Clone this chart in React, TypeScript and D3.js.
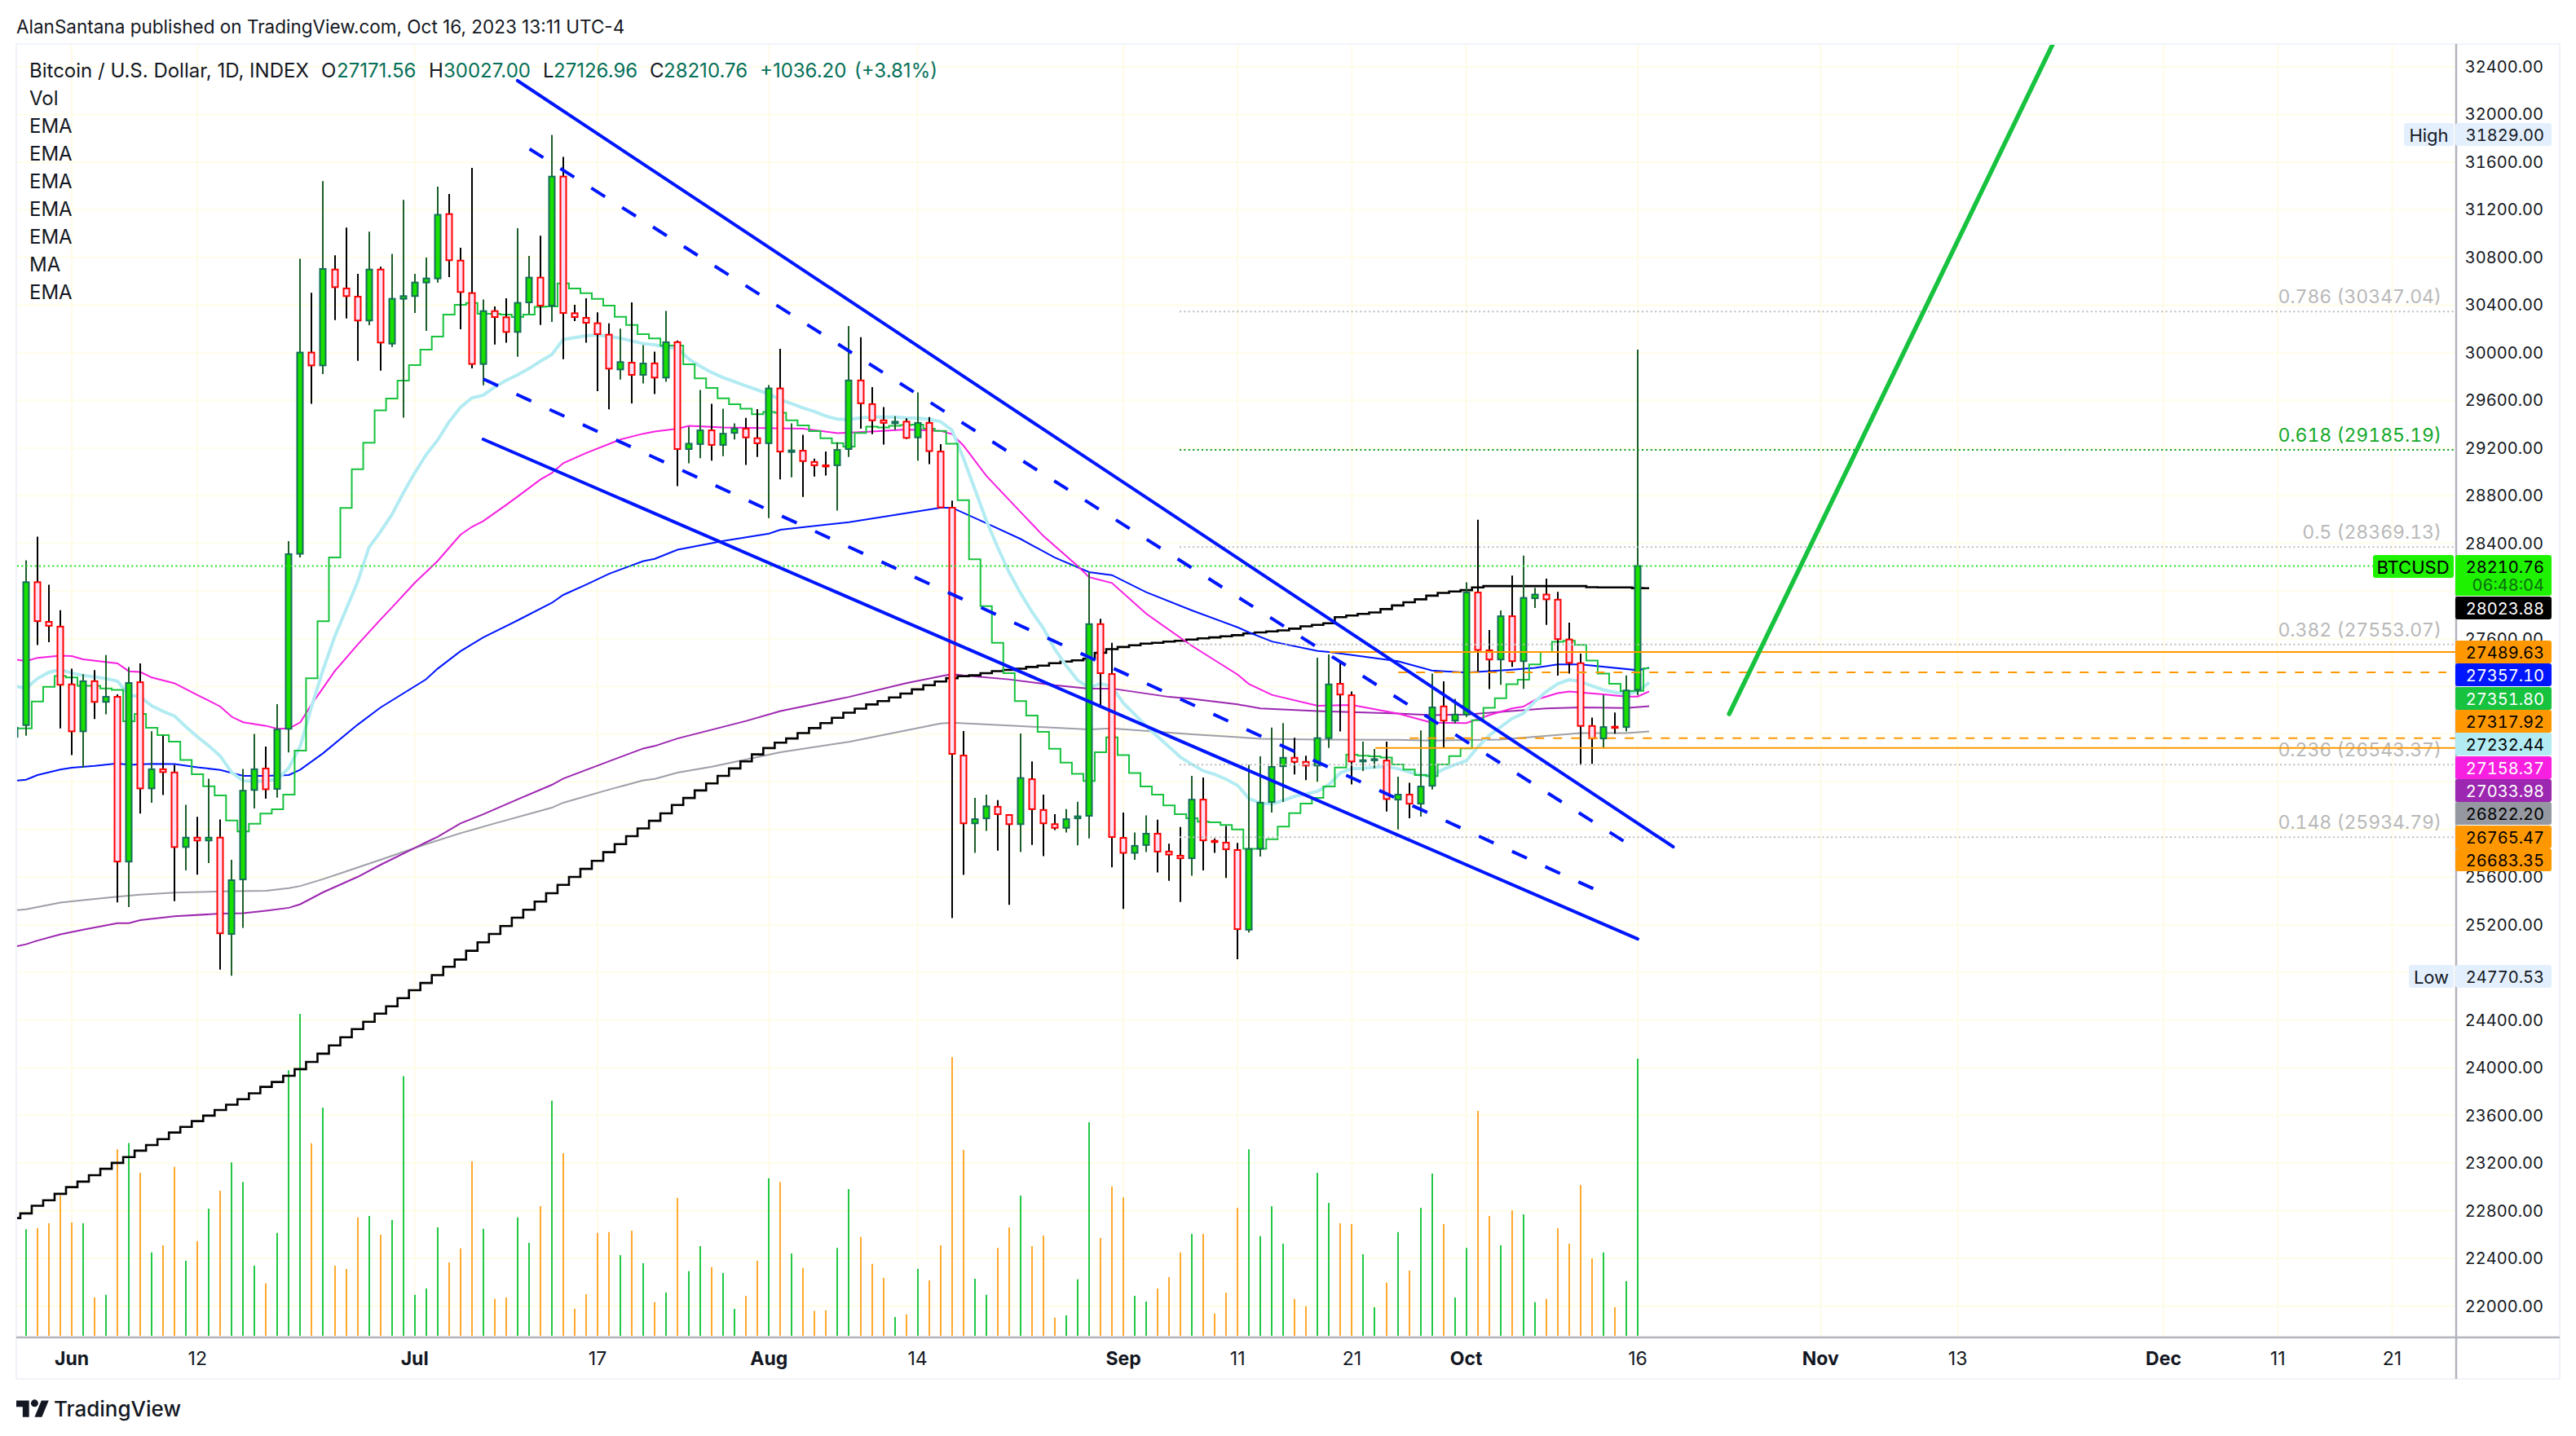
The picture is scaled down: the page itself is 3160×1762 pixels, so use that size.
import React from "react";
import * as d3 from "d3";

const WIDTH = 3160;
const HEIGHT = 1762;
const FONT = "Inter, 'Noto Sans', sans-serif";

// daily bars, 27 May to 16 Oct 2023 (bar index 0 = 27 May, 5 = 1 Jun)
const opens = [
  26777, 26875, 28075, 27742, 27702,
  27217, 26823, 27244, 27070, 27113, 25730, 27235, 26344, 26505, 26478, 25852, 25931, 25907, 25931, 25122, 25580, 26331, 26511, 26340, 26844, 28313, 30002, 29894, 30699, 30540, 30471, 30271, 30699, 30077, 30453,
  30476, 30590, 30624, 31164, 30774, 30501, 29906, 30350, 30298, 30175, 30423, 30631, 30396, 31479, 30332, 30293, 30248, 30152, 29860, 29917, 29815, 29911, 29792, 30089, 29192, 29234, 29349, 29227, 29328, 29363, 29283,
  29241, 29701, 29167, 29178, 29084, 29056, 29056, 29192, 29768, 29569, 29433, 29408, 29422, 29290, 29412, 29171, 28700, 26620, 26051, 26093, 26190, 26121, 26044, 26421, 26163, 26044, 26013, 26093, 26114, 27723, 27304,
  25929, 25803, 25869, 25964, 25814, 25779, 25758, 26250, 25904, 25889, 25827, 25158, 25838, 26230, 26530, 26601, 26567, 26536, 26766, 27222, 27126, 26570, 26581, 26578, 26250, 26292, 26216, 26366, 27032, 26913,
  26964, 27988, 27503, 27426, 27789, 27412, 27940, 27971, 27928, 27594, 27395, 26868, 26763, 26862, 26859, 27171.56,
];
const highs = [
  26869, 28258, 28457, 28054, 27840,
  27348, 27302, 27336, 27464, 27134, 27363, 27394, 26823, 26786, 26542, 26206, 26105, 26426, 26084, 25745, 26508, 26802, 26695, 27052, 28420, 30790, 30503, 31440, 30818, 31050, 30663, 31016, 30722, 30831, 31283,
  30663, 30800, 31395, 31333, 30882, 31552, 30448, 30389, 30458, 31046, 30813, 30982, 31829, 31645, 30403, 30458, 30339, 30248, 30202, 30423, 30065, 30009, 30351, 30103, 29380, 29688, 29572, 29530, 29408, 29454, 29527,
  29729, 30033, 29408, 29311, 29112, 29171, 29248, 30225, 30131, 29712, 29544, 29468, 29450, 29667, 29461, 29234, 28759, 26826, 26264, 26292, 26246, 26128, 26805, 26571, 26292, 26128, 26170, 26232, 28159, 27768, 27566,
  26142, 25974, 26117, 26082, 25880, 26020, 26449, 26435, 25925, 26028, 25887, 26542, 26613, 26854, 26893, 26769, 26618, 27441, 27469, 27401, 27157, 26737, 26675, 26737, 26442, 26391, 26831, 27307, 27242, 27095,
  28073, 28598, 27673, 27838, 28130, 28297, 28028, 28104, 27994, 27736, 27475, 26939, 27129, 26981, 27293, 30027,
];
const lows = [
  26716, 26786, 27547, 27571, 26847,
  26624, 26518, 26927, 26966, 25388, 25348, 26133, 26224, 26289, 25397, 25656, 25620, 25717, 24823, 24771, 25174, 26175, 26258, 26267, 26646, 28283, 29571, 29821, 30275, 30289, 29933, 30232, 29851, 30049, 29455,
  30334, 30184, 30590, 30635, 30198, 29869, 29728, 30070, 30084, 29967, 30327, 30234, 30259, 29947, 30266, 30084, 29678, 29526, 29776, 29575, 29742, 29653, 29757, 28881, 29073, 29115, 29094, 29133, 29272, 29059, 29126,
  28613, 28937, 28955, 28791, 28962, 28969, 28675, 29126, 29363, 29317, 29230, 29352, 29276, 29094, 29066, 28703, 25255, 25618, 25803, 25988, 25821, 25367, 25810, 25869, 25775, 25995, 25974, 25866, 25925, 27042, 25681,
  25332, 25744, 25810, 25639, 25569, 25391, 25611, 25656, 25803, 25592, 24911, 25135, 25773, 26142, 26230, 26462, 26414, 26400, 26683, 26822, 26377, 26491, 26513, 26150, 26000, 26094, 26108, 26335, 26683, 26888,
  26944, 27322, 27177, 27214, 27364, 27180, 27858, 27716, 27290, 27307, 26539, 26550, 26681, 26803, 26822, 27126.96,
];
const closes = [
  26854, 28075, 27748, 27709, 27214,
  26823, 27244, 27070, 27113, 25730, 27229, 26344, 26505, 26481, 25852, 25931, 25907, 25931, 25128, 25574, 26325, 26505, 26337, 26838, 28310, 30002, 29894, 30704, 30551, 30476, 30271, 30699, 30086, 30453, 30476,
  30590, 30624, 31158, 30777, 30510, 29906, 30350, 30300, 30175, 30419, 30631, 30396, 31479, 30334, 30300, 30252, 30157, 29867, 29922, 29815, 29910, 29792, 30089, 29192, 29237, 29349, 29227, 29321, 29363, 29290, 29241,
  29701, 29171, 29181, 29091, 29056, 29049, 29185, 29768, 29576, 29433, 29412, 29422, 29286, 29412, 29175, 28703, 26634, 26051, 26086, 26194, 26128, 26044, 26431, 26170, 26051, 26013, 26086, 26110, 27723, 27311, 25936,
  25803, 25862, 25964, 25814, 25789, 25758, 26250, 25908, 25897, 25833, 25163, 25835, 26224, 26525, 26601, 26567, 26536, 26766, 27217, 27132, 26570, 26581, 26590, 26255, 26292, 26216, 26360, 27024, 26913, 26964,
  27988, 27506, 27426, 27789, 27412, 27943, 27971, 27931, 27597, 27398, 26868, 26763, 26859, 26853, 27166, 28210.76,
];
const volumes = [
  0, 365, 368, 385, 480,
  388, 385, 131, 140, 638, 660, 558, 285, 310, 578, 257, 324, 435, 497, 594, 527, 240, 179, 352, 909, 1102, 659, 781, 240, 229, 405, 410, 346, 396, 889,
  140, 162, 371, 251, 299, 597, 366, 126, 131, 405, 318, 444, 805, 625, 92, 142, 352, 355, 276, 360, 248, 115, 148, 472, 221, 307, 235, 215, 92, 137, 257,
  539, 527, 282, 232, 85, 87, 301, 502, 338, 246, 198, 64, 73, 229, 190, 310, 954, 636, 195, 140, 301, 371, 480, 307, 343, 62, 70, 193, 731, 335, 511,
  474, 137, 117, 162, 201, 285, 349, 349, 76, 148, 438, 638, 341, 444, 315, 126, 101, 558, 455, 385, 382, 279, 98, 182, 355, 223, 438, 555, 382, 131,
  301, 770, 410, 310, 430, 416, 115, 126, 368, 315, 516, 265, 285, 98, 187, 949,
];

// step lines, one value per bar plus the one bar past the last candle
const greenEma = [
  26847, 26847, 27073, 27196, 27287,
  27275, 27205, 27205, 27183, 27171, 26908, 26970, 26853, 26792, 26737, 26582, 26463, 26362, 26285, 26075, 25983, 26047, 26133, 26169, 26292, 26661, 27269, 27748, 28283, 28698, 29022, 29245, 29517, 29616, 29767,
  29897, 30027, 30136, 30321, 30403, 30419, 30328, 30328, 30321, 30300, 30321, 30385, 30389, 30583, 30540, 30501, 30453, 30396, 30302, 30234, 30157, 30120, 30061, 30061, 29904, 29785, 29705, 29618, 29569, 29530, 29485,
  29503, 29496, 29433, 29391, 29342, 29283, 29241, 29213, 29328, 29380, 29373, 29387, 29394, 29398, 29363, 29345, 29237, 28763, 28267, 27873, 27566, 27311, 27077, 26955, 26819, 26676, 26560, 26466, 26407, 26648, 26773,
  26623, 26473, 26361, 26292, 26201, 26128, 26094, 26065, 26060, 26037, 26000, 25838, 25838, 25918, 26023, 26136, 26216, 26264, 26360, 26519, 26627, 26618, 26613, 26604, 26545, 26502, 26457, 26448, 26545, 26615,
  26681, 26916, 27021, 27100, 27219, 27256, 27384, 27489, 27574, 27583, 27548, 27418, 27307, 27222, 27160, 27163, 27351.8,
];
const blackMa = [
  22738, 22777, 22841, 22887, 22941,
  22998, 23044, 23098, 23152, 23201, 23250, 23304, 23351, 23400, 23456, 23503, 23552, 23598, 23645, 23689, 23736, 23785, 23839, 23880, 23932, 23988, 24049, 24118, 24187, 24255, 24324, 24385, 24454, 24515, 24584,
  24650, 24711, 24777, 24847, 24908, 24981, 25052, 25122, 25189, 25259, 25326, 25394, 25464, 25534, 25601, 25669, 25736, 25809, 25876, 25943, 26008, 26072, 26135, 26205, 26264, 26327, 26386, 26449, 26512, 26571, 26630,
  26683, 26728, 26763, 26808, 26850, 26892, 26937, 26979, 27014, 27049, 27077, 27108, 27140, 27175, 27210, 27241, 27269, 27286, 27293, 27311, 27328, 27339, 27349, 27363, 27374, 27395, 27409, 27419, 27433, 27482, 27513,
  27531, 27545, 27559, 27566, 27576, 27583, 27593, 27604, 27611, 27621, 27630, 27645, 27653, 27662, 27670, 27685, 27704, 27716, 27730, 27781, 27795, 27809, 27821, 27849, 27880, 27906, 27931, 27962, 27985, 27997,
  28008, 28031, 28042, 28042, 28042, 28042, 28042, 28042, 28042, 28042, 28042, 28033, 28031, 28031, 28031, 28025, 28023.88,
];
const lightBlueEma = [
  27205, 27183, 27266, 27318, 27342,
  27312, 27293, 27281, 27266, 27244, 27128, 27113, 27037, 26991, 26951, 26860, 26777, 26701, 26615, 26478, 26408, 26402, 26408, 26420, 26518, 26701, 27037, 27342, 27617, 27846, 28075, 28365, 28497, 28640, 28823,
  28991, 29144, 29266, 29419, 29541, 29621, 29644, 29712, 29769, 29815, 29867, 29929, 29986, 30111, 30127, 30143, 30150, 30138, 30122, 30099, 30077, 30068, 30044, 30037, 29946, 29886, 29834, 29792, 29757, 29722, 29688,
  29653, 29607, 29572, 29537, 29506, 29468, 29443, 29440, 29454, 29461, 29461, 29461, 29454, 29450, 29443, 29422, 29352, 29119, 28857, 28595, 28368, 28159, 27984, 27827, 27688, 27513, 27374, 27251, 27189, 27224, 27199,
  27060, 26965, 26868, 26780, 26693, 26606, 26546, 26491, 26462, 26420, 26369, 26258, 26221, 26213, 26244, 26278, 26298, 26320, 26377, 26476, 26510, 26513, 26522, 26527, 26510, 26482, 26454, 26454, 26505, 26542,
  26576, 26689, 26788, 26859, 26930, 26973, 27072, 27157, 27222, 27256, 27242, 27205, 27171, 27151, 27137, 27157, 27232.44,
];

// the slower averages are read at their bends: [bar index, price]
const magentaEma: [number, number][] = [
  [0, 27428], [1, 27412], [2, 27440], [4, 27458], [5, 27455], [6, 27428], [9, 27394], [10, 27327], [11, 27321], [12, 27275], [14, 27226], [16, 27128], [18, 27031], [19, 26945], [20, 26899], [22, 26869], [23, 26844], [24, 26847], [25, 26899], [26, 27052], [27, 27189], [28, 27327], [30, 27550], [32, 27760], [33, 27861], [35, 28069], [37, 28252], [39, 28472], [40, 28539], [41, 28588], [43, 28723], [44, 28793], [46, 28936], [47, 28991], [48, 29074], [50, 29159], [53, 29272], [55, 29321],
  [56, 29339], [58, 29363], [59, 29387], [62, 29373], [69, 29363], [72, 29325], [75, 29339], [78, 29356], [81, 29345], [82, 29318], [83, 29223], [85, 28969], [88, 28665], [90, 28463], [93, 28211], [94, 28117], [96, 28068], [99, 27810], [103, 27540],
  [107, 27299], [108, 27219], [110, 27129], [114, 27038], [117, 27044], [121, 26973], [124, 26896], [127, 26893], [129, 26959], [131, 27015], [132, 27030], [133, 27086], [135, 27143], [136, 27157], [139, 27134], [141, 27115], [142, 27115], [143, 27158.37],
];
const blueEma: [number, number][] = [
  [0, 26408], [1, 26417], [2, 26456], [4, 26502], [5, 26517], [7, 26533], [9, 26554], [10, 26542], [12, 26551], [14, 26548], [16, 26521], [18, 26499], [20, 26450], [22, 26450], [24, 26456], [25, 26502], [27, 26640], [30, 26878], [32, 27022], [36, 27260], [37, 27348], [39, 27495], [41, 27611], [44, 27754], [47, 27901], [48, 27968], [50, 28054], [52, 28145], [55, 28252],
  [56, 28271], [58, 28347], [62, 28421], [66, 28483], [67, 28515], [73, 28578], [81, 28700], [82, 28700], [85, 28571], [88, 28438], [91, 28281], [94, 28159], [96, 28134], [99, 27991], [103, 27838],
  [107, 27696], [108, 27653], [110, 27577], [114, 27497], [115, 27489], [121, 27412], [124, 27333], [127, 27316], [131, 27341], [133, 27356], [135, 27384], [137, 27384], [142, 27336], [143, 27357.1],
];
const purpleEma: [number, number][] = [
  [0, 25015], [1, 25036], [2, 25067], [4, 25119], [6, 25159], [9, 25213], [10, 25213], [11, 25238], [14, 25271], [18, 25293], [20, 25296], [22, 25317], [24, 25342], [25, 25372], [27, 25473], [30, 25601], [32, 25702], [36, 25892], [37, 25937], [39, 26050], [41, 26127], [44, 26252], [47, 26374], [48, 26426], [52, 26572], [55, 26679],
  [56, 26700], [58, 26763], [64, 26910], [67, 26993], [73, 27112], [78, 27227], [82, 27304], [83, 27293], [87, 27259], [91, 27210], [94, 27182], [96, 27182], [101, 27112], [103, 27095],
  [107, 27049], [109, 27015], [114, 26993], [121, 26973], [124, 26959], [127, 26964], [130, 26987], [134, 27015], [137, 27024], [141, 27018], [143, 27033.98],
];
const greyEma: [number, number][] = [
  [0, 25321], [1, 25330], [4, 25385], [6, 25406], [9, 25436], [11, 25452], [14, 25470], [18, 25479], [22, 25485], [24, 25507], [25, 25525], [27, 25583], [29, 25647], [32, 25745], [36, 25876], [39, 25968], [42, 26050], [47, 26182], [48, 26224], [52, 26334], [55, 26411],
  [56, 26424], [58, 26477], [61, 26526], [67, 26648], [73, 26735], [81, 26889], [82, 26896], [87, 26871], [94, 26840], [96, 26847], [103, 26798],
  [107, 26774], [109, 26760], [114, 26754], [121, 26752], [124, 26746], [130, 26754], [137, 26808], [141, 26808], [143, 26822.2],
];

const priceTicks = d3.range(22000, 32401, 400);
// these sit fully under the price tags in the picture
const hiddenTicks = [26000, 26400, 26800, 27200, 28000];
const timeTicks: [number, string, boolean][] = [
  [5, "Jun", true], [16, "12", false], [35, "Jul", true], [51, "17", false], [66, "Aug", true], [79, "14", false],
  [97, "Sep", true], [107, "11", false], [117, "21", false], [127, "Oct", true], [142, "16", false],
  [158, "Nov", true], [170, "13", false], [188, "Dec", true], [198, "11", false], [208, "21", false],
];
const legendNames = ["Vol", "EMA", "EMA", "EMA", "EMA", "EMA", "MA", "EMA"];

// fibonacci levels
const fibLevels: [string, number, boolean][] = [
  ["0.786", 30347.04, false], ["0.618", 29185.19, true], ["0.5", 28369.13, false],
  ["0.382", 27553.07, false], ["0.236", 26543.37, false], ["0.148", 25934.79, false],
];

// hand drawn trend lines: [bar index, price] pairs
const wedgeLines: [[number, number], [number, number]][] = [
  [[44, 32284], [145.1, 25854]],
  [[41, 29274], [142, 25081]],
];
const dashedLines: [[number, number], [number, number]][] = [
  [[45.05, 31711], [141, 25888]],
  [[41, 29780], [139.3, 25450]],
];
const targetLine: [[number, number], [number, number]] = [[150, 26969], [178.3, 32589]];

const orangeSolid: [number, number][] = [[115.05, 27489.63], [119.05, 26683.35]];
const orangeDashed: [number, number, number][] = [[121.05, 27317.92, 3001], [122.05, 26765.47, 3013]];

// right hand price tags: value, fill, text colour, centre of tag
const priceTags: [string, string, string, number][] = [
  ["28023.88", "#000000", "#ffffff", 746],
  ["27489.63", "#ff9800", "#000000", 800],
  ["27357.10", "#0016ff", "#ffffff", 828],
  ["27351.80", "#17c23e", "#ffffff", 857],
  ["27317.92", "#ff9800", "#000000", 885],
  ["27232.44", "#b2ebf2", "#000000", 913],
  ["27158.37", "#f71fe0", "#ffffff", 942],
  ["27033.98", "#9c27b0", "#ffffff", 970],
  ["26822.20", "#9598a1", "#000000", 998],
  ["26765.47", "#ff9800", "#000000", 1027],
  ["26683.35", "#ff9800", "#000000", 1055],
];

const x = d3.scaleLinear().domain([5, 142]).range([88, 2009]);
const y = d3.scaleLinear().domain([22000, 32400]).range([1602.5, 82]);
const yVol = d3.scaleLinear().domain([0, 1225]).range([1639, 1200]);

const pairLine = d3.line<[number, number]>().x((d) => x(d[0])).y((d) => y(d[1]));
const dailyStep = d3.line<number>().x((_, i) => x(i)).y((d) => y(d)).curve(d3.curveStep);
const dailyLine = d3.line<number>().x((_, i) => x(i)).y((d) => y(d));

const PLOT = { left: 21, right: 3013, top: 55, bottom: 1641 };
const TABULAR = { fontVariantNumeric: "tabular-nums" };

function Tag({ cx, cy, w, h, fill, color, text }: any) {
  return (
    <g>
      <rect x={cx} y={cy - h / 2} width={w} height={h} rx={3} fill={fill} />
      <text x={cx + w - 9} y={cy + 1} textAnchor="end" dominantBaseline="central" fontSize={20} fill={color} style={TABULAR}>
        {text}
      </text>
    </g>
  );
}

export default function App() {
  const legendTop = 86;
  return (
    <div style={{ position: "fixed", left: 0, top: 0, background: "#fff" }}>
      <svg width={WIDTH} height={HEIGHT} viewBox={`0 0 ${WIDTH} ${HEIGHT}`} fontFamily={FONT} style={{ display: "block" }}>
        <defs>
          <clipPath id="plot">
            <rect x={PLOT.left} y={PLOT.top} width={PLOT.right - PLOT.left} height={PLOT.bottom - PLOT.top} />
          </clipPath>
        </defs>
        <rect width={WIDTH} height={HEIGHT} fill="#ffffff" />

        <text x={20} y={32} dominantBaseline="central" fontSize={22.5} fill="#131722">
          AlanSantana published on TradingView.com, Oct 16, 2023 13:11 UTC-4
        </text>

        <g clipPath="url(#plot)">
          {/* grid */}
          {priceTicks.map((p) => (
            <line key={p} x1={PLOT.left} x2={PLOT.right} y1={y(p)} y2={y(p)} stroke="#fffde8" strokeWidth={2} />
          ))}
          {timeTicks.map(([i]) => (
            <line key={i} x1={x(i)} x2={x(i)} y1={PLOT.top} y2={PLOT.bottom} stroke="#fffbe8" strokeWidth={2} />
          ))}

          {/* volume */}
          {volumes.map((v, i) => (
            <line
              key={i}
              x1={Math.round(x(i))}
              x2={Math.round(x(i))}
              y1={yVol(0)}
              y2={yVol(v)}
              stroke={closes[i] >= opens[i] ? "#22c845" : "#ffa92e"}
              strokeWidth={2}
            />
          ))}

          {/* moving averages */}
          <path d={pairLine(greyEma) || ""} fill="none" stroke="#9e9fa8" strokeWidth={2} />
          <path d={pairLine(purpleEma) || ""} fill="none" stroke="#9c27b0" strokeWidth={2} />
          <path d={dailyStep(blackMa) || ""} fill="none" stroke="#000000" strokeWidth={2.6} />
          <path d={pairLine(blueEma) || ""} fill="none" stroke="#0016ff" strokeWidth={2} />
          <path d={pairLine(magentaEma) || ""} fill="none" stroke="#f71fe0" strokeWidth={2} />
          <path d={dailyLine(lightBlueEma) || ""} fill="none" stroke="#b2ebf2" strokeWidth={4} />
          <path d={dailyStep(greenEma) || ""} fill="none" stroke="#17c23e" strokeWidth={2} />

          {/* candles */}
          {closes.map((c, i) => {
            const up = c >= opens[i];
            const cx = Math.round(x(i));
            const top = y(Math.max(c, opens[i]));
            const bottom = y(Math.min(c, opens[i]));
            return (
              <g key={i}>
                <line x1={cx} x2={cx} y1={y(highs[i])} y2={y(lows[i])} stroke={up ? "#1d5e2a" : "#000000"} strokeWidth={2} />
                <rect
                  x={cx - 3.5}
                  y={top}
                  width={7}
                  height={Math.max(bottom - top, 1.5)}
                  fill={up ? "#18e000" : "#fde0f5"}
                  stroke={up ? "#156d5a" : "#ff0000"}
                  strokeWidth={2}
                />
              </g>
            );
          })}

          {/* fib levels */}
          {fibLevels.map(([name, p, green]) => (
            <g key={name}>
              <line x1={1447} x2={PLOT.right} y1={y(p)} y2={y(p)} stroke={green ? "#0b9a1c" : "#bdbdbd"} strokeWidth={2} strokeDasharray="2 3.4" />
              <text x={2995} y={y(p) - 18} textAnchor="end" dominantBaseline="central" fontSize={23} fill={green ? "#14a82a" : "#b8b8b8"} style={TABULAR}>
                {name} ({p.toFixed(2)})
              </text>
            </g>
          ))}

          {/* last price */}
          <line x1={PLOT.left} x2={PLOT.right} y1={y(28210.76)} y2={y(28210.76)} stroke="#1fe01f" strokeWidth={2} strokeDasharray="2 3.4" />

          {/* support lines */}
          {orangeSolid.map(([i, p]) => (
            <line key={p} x1={x(i)} x2={PLOT.right} y1={y(p)} y2={y(p)} stroke="#ff9800" strokeWidth={2} />
          ))}
          {orangeDashed.map(([i, p, end]) => (
            <line key={p} x1={x(i)} x2={end} y1={y(p)} y2={y(p)} stroke="#ff9800" strokeWidth={2} strokeDasharray="11 11" />
          ))}

          {/* trend lines */}
          {wedgeLines.map((l, i) => (
            <path key={i} d={pairLine(l) || ""} fill="none" stroke="#0016ff" strokeWidth={4} strokeLinecap="round" />
          ))}
          {dashedLines.map((l, i) => (
            <path key={i} d={pairLine(l) || ""} fill="none" stroke="#0016ff" strokeWidth={4} strokeDasharray="20 24.8" />
          ))}
          <path d={pairLine(targetLine) || ""} fill="none" stroke="#17c23e" strokeWidth={5.5} strokeLinecap="round" />
        </g>

        {/* frame and axis lines */}
        <rect x={20} y={54} width={3120} height={1638} fill="none" stroke="#f0f3fa" strokeWidth={2} />
        <line x1={3013} x2={3013} y1={54} y2={1692} stroke="#b2b5be" strokeWidth={2.5} />
        <line x1={20} x2={3140} y1={1641} y2={1641} stroke="#b2b5be" strokeWidth={2.5} />

        {/* price axis */}
        {priceTicks
          .filter((p) => !hiddenTicks.includes(p))
          .map((p) => (
            <text key={p} x={3120} y={y(p)} textAnchor="end" dominantBaseline="central" fontSize={20} fill="#131722" style={TABULAR}>
              {p.toFixed(2)}
            </text>
          ))}

        {/* time axis */}
        {timeTicks.map(([i, label, bold]) => (
          <text key={i} x={x(i)} y={1667} textAnchor="middle" dominantBaseline="central" fontSize={23} fontWeight={bold ? 700 : 400} fill="#131722">
            {label}
          </text>
        ))}

        {/* header */}
        <text x={36} y={legendTop} dominantBaseline="central" fontSize={24} fill="#131722">
          Bitcoin / U.S. Dollar, 1D, INDEX
        </text>
        {[
          ["O", 394, "27171.56", 413],
          ["H", 526, "30027.00", 544],
          ["L", 666, "27126.96", 679],
          ["C", 797, "28210.76", 814],
        ].map(([k, kx, v, vx]: any) => (
          <g key={k} fontSize={24}>
            <text x={kx} y={legendTop} dominantBaseline="central" fill="#131722">{k}</text>
            <text x={vx} y={legendTop} dominantBaseline="central" fill="#06705a">{v}</text>
          </g>
        ))}
        <text x={932} y={legendTop} dominantBaseline="central" fontSize={24} fill="#06705a">+1036.20</text>
        <text x={1048} y={legendTop} dominantBaseline="central" fontSize={24} fill="#06705a">(+3.81%)</text>
        {legendNames.map((name, i) => (
          <text key={i} x={36} y={legendTop + 34 * (i + 1)} dominantBaseline="central" fontSize={24} fill="#131722">
            {name}
          </text>
        ))}

        {/* High / Low */}
        <rect x={2949} y={151} width={61} height={28} rx={3} fill="#e3effd" />
        <text x={2979.5} y={166} textAnchor="middle" dominantBaseline="central" fontSize={22} fill="#131722">High</text>
        <Tag cx={3012} cy={165} w={118} h={28} fill="#e3effd" color="#131722" text="31829.00" />
        <rect x={2955} y={1184} width={55} height={28} rx={3} fill="#e3effd" />
        <text x={2982.5} y={1199} textAnchor="middle" dominantBaseline="central" fontSize={22} fill="#131722">Low</text>
        <Tag cx={3012} cy={1198} w={118} h={28} fill="#e3effd" color="#131722" text="24770.53" />

        {/* last price tags */}
        <rect x={2911} y={681} width={99} height={28} rx={3} fill="#1ff200" />
        <text x={2960} y={696} textAnchor="middle" dominantBaseline="central" fontSize={22} fill="#000000">BTCUSD</text>
        {priceTags.map(([text, fill, color, cy]) => (
          <Tag key={text} cx={3012} cy={cy} w={118} h={28} fill={fill} color={color} text={text} />
        ))}
        <rect x={3012} y={681} width={118} height={50} rx={3} fill="#1ff200" />
        <text x={3121} y={696} textAnchor="end" dominantBaseline="central" fontSize={20} fill="#000000" style={TABULAR}>28210.76</text>
        <text x={3121} y={718} textAnchor="end" dominantBaseline="central" fontSize={20} fill="#0b6b12" style={TABULAR}>06:48:04</text>

        {/* logo */}
        <g transform="translate(20 1714) scale(1.12)" fill="#131722">
          <path d="M14 22H7V11H0V4h14v18zM28 22h-8l7.5-18h8L28 22z" />
          <circle cx="20" cy="7" r="4" />
        </g>
        <text x={66} y={1728} dominantBaseline="central" fontSize={26} fontWeight={500} fill="#131722">TradingView</text>
      </svg>
    </div>
  );
}
